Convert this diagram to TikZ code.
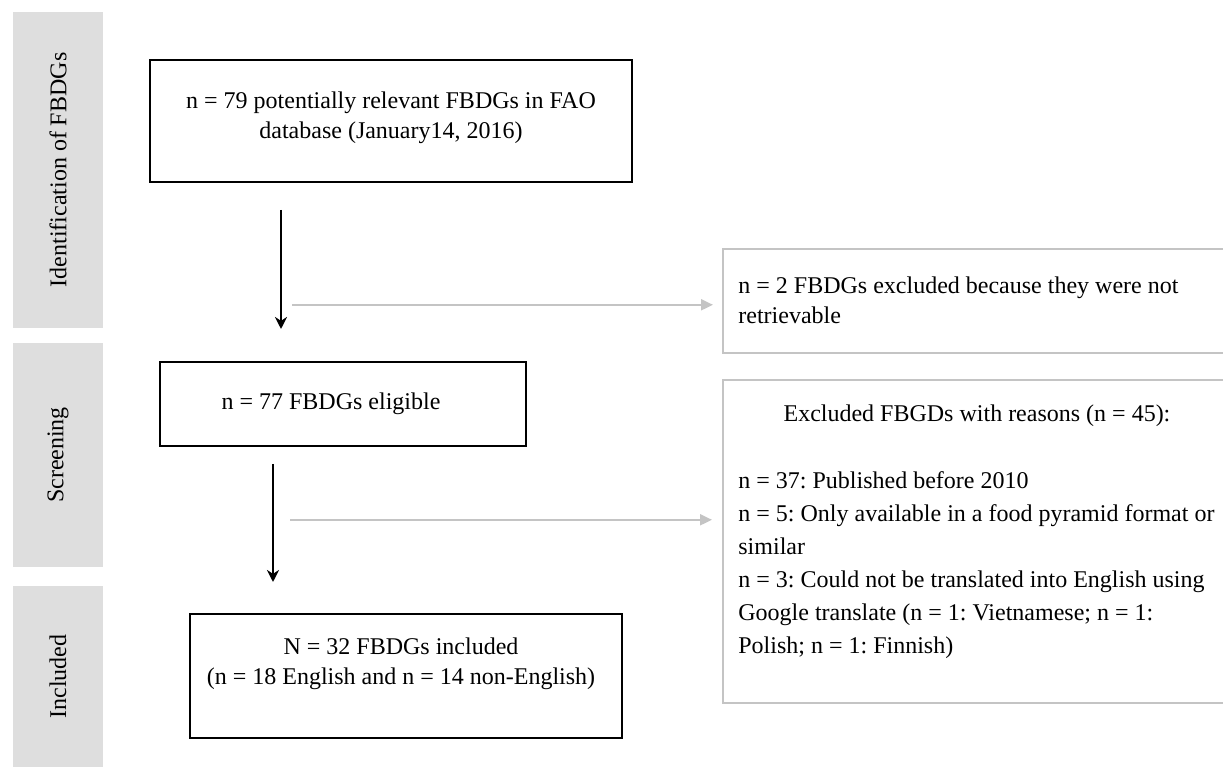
\documentclass[tikz,border=0pt]{standalone}
\usepackage{fontspec}
\setmainfont{Liberation Serif}
\usetikzlibrary{positioning,arrows.meta}

\definecolor{stagegray}{HTML}{DEDEDE}
\definecolor{exclgray}{HTML}{C4C4C4}

\tikzstyle{stage} = [rectangle, rotate=90, minimum height=45pt, fill=stagegray, text centered, inner sep=0pt]
\tikzstyle{process} = [rectangle, draw=black, line width=1pt, text centered, align=center, inner sep=0pt]
\tikzstyle{excluded} = [rectangle, draw=exclgray, line width=0.8pt, inner sep=0pt, anchor=north west]
\tikzstyle{comment} = [anchor=north west, align=left, inner sep=0pt]
\tikzstyle{arrow} = [line width=1pt, ->, >={Stealth[length=6pt,width=6pt]}]
\tikzstyle{greyarrow} = [draw=exclgray, line width=1pt, -{Triangle[length=6pt,width=5.5pt]}]

\begin{document}
\frenchspacing
\begin{tikzpicture}[x=0.5pt, y=-0.5pt, font=\fontsize{12}{15}\selectfont]
			\useasboundingbox (0,0) rectangle (1223,769);
			% stages on the left
			\node (identification) [stage, minimum width=158pt] at (58,170) {Identification of FBDGs};
			\node (screening) [stage, minimum width=112pt] at (58,455) {Screening};
			\node (included) [stage, minimum width=90.5pt] at (58,676.5) {Included};
			
			\node (fbdgs) [process, minimum width=241pt, minimum height=61pt] at (391,121) {};
			\node (fbdgsText) [align=center, inner sep=0pt] at ([yshift=1.5pt]fbdgs.center) {n = 79 potentially relevant FBDGs in FAO\\ database (January14, 2016)};
			\node (eligible) [process, minimum width=183pt, minimum height=42pt] at (343,404) {};
			\node (eligibleText) [inner sep=0pt] at ([xshift=-6pt]eligible.center) {n = 77 FBDGs eligible};
			\node (final) [process, minimum width=216pt, minimum height=62pt] at (406,676) {};
			\node (finalText) [align=center, inner sep=0pt] at ([xshift=-2.5pt, yshift=6pt]final.center) {N = 32 FBDGs included\\ (n = 18 English and n = 14 non-English)};
			
			% excluded records on the right
			\node (notRetrieved) [excluded, minimum width=270pt, minimum height=52pt] at (722,248) {};
			\node (commentRetrieved) [comment] at ([xshift=8pt, yshift=-14.4pt]notRetrieved.north west) {n = 2 FBDGs excluded because they were not\\ retrievable};
			\node (reasons) [excluded, minimum width=270pt, minimum height=161.5pt] at (722,379) {};
			\node (reasonsTitle) [anchor=base, inner sep=0pt] at (977,422) {Excluded FBGDs with reasons (n = 45):};
			\node (commentReasons) [comment, font=\fontsize{12}{16.5}\selectfont] at ([xshift=8pt, yshift=-45.9pt]reasons.north west) {n = 37: Published before 2010\\
				n = 5: Only available in a food pyramid format or\\
				similar\\
				n = 3: Could not be translated into English using\\
				Google translate (n = 1: Vietnamese; n = 1:\\
				Polish; n = 1: Finnish)};
			
			\coordinate (stemA) at (281,0);
			\coordinate (stemB) at (273,0);
			
			\draw [arrow, shorten <=13.5pt, shorten >=16pt] (fbdgs.south -| stemA) -- (eligible.north -| stemA);
			\draw [arrow, shorten <=8.5pt, shorten >=15.5pt] (eligible.south -| stemB) -- (final.north -| stemB);
			\draw [greyarrow, shorten <=5.5pt, shorten >=4.5pt] ([yshift=-2pt]notRetrieved.west -| stemA) -- ([yshift=-2pt]notRetrieved.west);
			\draw [greyarrow, shorten <=8.5pt, shorten >=5pt] ([yshift=10.75pt]reasons.west -| stemB) -- ([yshift=10.75pt]reasons.west);
			
		\end{tikzpicture}
\end{document}
